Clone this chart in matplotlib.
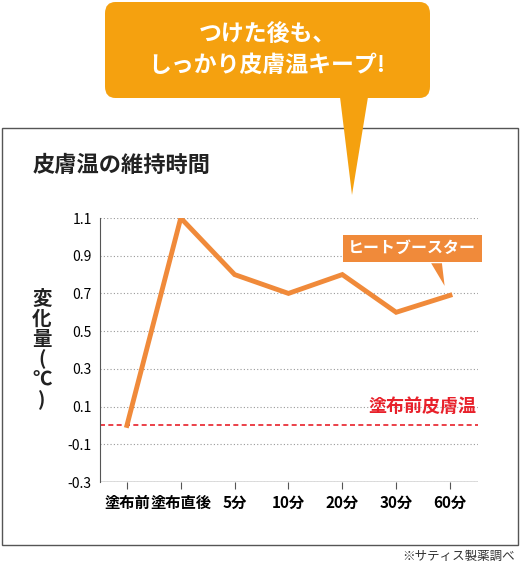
import matplotlib
matplotlib.use("Agg")
import matplotlib.pyplot as plt
from matplotlib.patches import Rectangle, FancyBboxPatch, Polygon

plt.rcParams["font.family"] = ["Noto Sans CJK JP", "DejaVu Sans"]

categories = ["塗布前", "塗布直後", "5分", "10分", "20分", "30分", "60分"]
values = [0.0, 1.1, 0.8, 0.7, 0.8, 0.6, 0.69]
yticks = [1.1, 0.9, 0.7, 0.5, 0.3, 0.1, -0.1, -0.3]

ORANGE = "#f08a3a"
CALLOUT = "#f5a10f"

fig = plt.figure(figsize=(5.21, 5.71), dpi=100)
W, H = 521, 571

def fx(x):
    return x / W

def fy(y):
    return 1 - y / H

# outer frame
fig.patches.append(Rectangle((fx(2), fy(545)), fx(516), 417 / H, transform=fig.transFigure,
                             fill=False, edgecolor="#555555", lw=1))
# callout
fig.patches.append(FancyBboxPatch((fx(105), fy(98)), fx(325), 96 / H, transform=fig.transFigure,
                                  boxstyle="round,pad=0,rounding_size=0.02", facecolor=CALLOUT,
                                  edgecolor="none", zorder=5))
fig.patches.append(Polygon([(fx(340), fy(97)), (fx(368), fy(97)), (fx(352), fy(195))],
                           transform=fig.transFigure, facecolor=CALLOUT, edgecolor="none", zorder=5))
fig.text(fx(267), fy(50), "つけた後も、\nしっかり皮膚温キープ!", ha="center", va="center",
         color="white", fontsize=16.5, fontweight="bold", linespacing=1.45, zorder=6)

fig.text(fx(33), fy(165), "皮膚温の維持時間", fontsize=16, fontweight="bold", va="center", color="#222222")
fig.text(fx(42), fy(350), "変\n化\n量\n(\n℃\n)", fontsize=14, fontweight="bold", ha="center", va="center",
         color="#222222", linespacing=1.05)
fig.text(fx(515), fy(556), "※サティス製薬調べ", fontsize=9, ha="right", va="center", color="#333333")

ax = fig.add_axes([fx(100), fy(482), fx(378), (482 - 218) / H])
x = list(range(len(categories)))
ax.plot(x, values, color=ORANGE, lw=3.5, solid_joinstyle="miter", zorder=3)
ax.axhline(0, color="#e8202a", lw=1.2, ls=(0, (3, 2)), zorder=2)
for t in yticks:
    ax.axhline(t, color="#999999", lw=0.8, ls=(0, (1, 2)), zorder=1)
ax.set_xlim(-0.5, 6.52)
ax.set_ylim(-0.3, 1.1)
ax.set_yticks(yticks)
ax.set_yticklabels([f"{t:.1f}" for t in yticks], fontsize=10)
ax.set_xticks(x)
ax.set_xticklabels(categories, fontsize=11, fontweight="bold")
for s in ["top", "right", "bottom"]:
    ax.spines[s].set_visible(False)
ax.spines["left"].set_color("#555555")
ax.tick_params(axis="x", length=5, color="#555555", pad=4)
ax.tick_params(axis="y", length=0, pad=6)
ax.axhline(-0.3, color="#555555", lw=1, zorder=2)

ax.text(6.5, 0.05, "塗布前皮膚温", color="#e8202a", fontsize=13, fontweight="bold", ha="right", va="bottom")
ax.text(5.3, 0.94, "ヒートブースター", color="white", fontsize=11.5, fontweight="bold", ha="center", va="center",
        bbox=dict(boxstyle="square,pad=0.35", facecolor=ORANGE, edgecolor="none"))
ax.add_patch(Polygon([(5.65, 0.86), (5.85, 0.86), (5.9, 0.74)], facecolor=ORANGE, edgecolor="none"))

fig.savefig("out.png", dpi=100)
